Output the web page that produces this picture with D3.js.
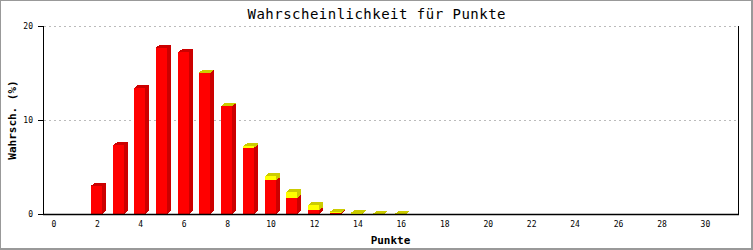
<!DOCTYPE html>
<html>
<head>
<meta charset="utf-8">
<script src="https://cdn.jsdelivr.net/npm/d3@7"></script>
<style>
  body { margin: 0; background: #fff; }
  svg { display: block; }
  text { font-family: "DejaVu Sans Mono", monospace; }
</style>
</head>
<body>
<div id="chart"></div>
<script>
// points 0..31
const punkte = [0,1,2,3,4,5,6,7,8,9,10,11,12,13,14,15,16,17,18,19,20,21,22,23,24,25,26,27,28,29,30,31]
// red part (lower stack)
const rot = [0,0,3.0,7.3,13.4,17.7,17.2,15.0,11.45,7.05,3.6,1.7,0.4,0.1,0,0,0,0,0,0,0,0,0,0,0,0,0,0,0,0,0,0]
// yellow part (upper stack)
const gelb = [0,0,0,0,0,0,0,0.05,0.05,0.15,0.45,0.65,0.55,0.15,0.12,0.03,0.02,0,0,0,0,0,0,0,0,0,0,0,0,0,0,0]
const yTicks = [0,10,20]
const xTickLabels = [0,2,4,6,8,10,12,14,16,18,20,22,24,26,28,30]

const W = 753, H = 250
const margin = {top: 26, right: 15, bottom: 36, left: 43}

const svg = d3.select("#chart").append("svg")
  .attr("width", W).attr("height", H)

// frame
svg.append("rect").attr("width", W).attr("height", H).attr("fill", "#999")
svg.append("rect").attr("x", 1).attr("y", 1).attr("width", W - 3).attr("height", H - 3).attr("fill", "#fff")

const x = d3.scaleBand()
  .domain(punkte)
  .range([margin.left, W - margin.right])
  .padding(0)

const y = d3.scaleLinear()
  .domain([0, 20])
  .range([H - margin.bottom, margin.top])

// grid
svg.append("g")
  .selectAll("line")
  .data(yTicks.filter(d => d > 0))
  .enter().append("line")
    .attr("x1", margin.left + 1).attr("x2", W - margin.right)
    .attr("y1", d => Math.round(y(d)) + 0.5).attr("y2", d => Math.round(y(d)) + 0.5)
    .attr("stroke", "#bbb")
    .attr("stroke-dasharray", "2,3")

// bars with 3D look
const dx = 4, dy = 3
const bw = 11
const stacks = punkte.map((p, i) => ({p: p, segs: [
  {y0: 0, y1: rot[i], front: "#ff0000", dark: "#cc0000"},
  {y0: rot[i], y1: rot[i] + gelb[i], front: "#ffff00", dark: "#cccc00"}
]}))

const bars = svg.append("g").attr("shape-rendering", "crispEdges")
stacks.forEach(s => {
  const x1 = Math.round(x(s.p) + x.bandwidth() / 2 - bw / 2 - 1)
  const x2 = x1 + bw
  s.segs.forEach(seg => {
    if (seg.y1 - seg.y0 <= 0) return
    const top = y(seg.y1), bot = y(seg.y0)
    // side
    bars.append("path")
      .attr("d", `M${x2},${top}L${x2 + dx},${top - dy}L${x2 + dx},${bot - dy}L${x2},${bot}Z`)
      .attr("fill", seg.dark)
    // front
    bars.append("rect")
      .attr("x", x1).attr("y", top)
      .attr("width", bw).attr("height", Math.max(0, bot - top))
      .attr("fill", seg.front)
    // top
    bars.append("path")
      .attr("d", `M${x1},${top}L${x1 + dx},${top - dy}L${x2 + dx},${top - dy}L${x2},${top}Z`)
      .attr("fill", seg.dark)
  })
})

// axes lines
const y0 = Math.round(y(0)) + 0.5
svg.append("line")
  .attr("x1", margin.left).attr("x2", W - margin.right + 1)
  .attr("y1", y0).attr("y2", y0)
  .attr("stroke", "#000").attr("stroke-width", 1.5)
svg.append("line")
  .attr("x1", margin.left + 0.5).attr("x2", margin.left + 0.5)
  .attr("y1", margin.top).attr("y2", y0)
  .attr("stroke", "#000")
svg.append("line")
  .attr("x1", W - margin.right + 0.5).attr("x2", W - margin.right + 0.5)
  .attr("y1", margin.top).attr("y2", y0)
  .attr("stroke", "#000")

// y ticks
const yAxis = svg.append("g")
yAxis.selectAll("line").data(yTicks).enter().append("line")
  .attr("x1", margin.left - 5).attr("x2", margin.left)
  .attr("y1", d => Math.round(y(d)) + 0.5).attr("y2", d => Math.round(y(d)) + 0.5)
  .attr("stroke", "#000")
yAxis.selectAll("text").data(yTicks).enter().append("text")
  .attr("x", 33).attr("y", d => y(d) + 3)
  .attr("text-anchor", "end")
  .attr("font-size", 8)
  .text(d => d)

// x labels
svg.append("g").selectAll("text").data(xTickLabels).enter().append("text")
  .attr("x", d => x(d) + x.bandwidth() / 2)
  .attr("y", 226.5)
  .attr("text-anchor", "middle")
  .attr("font-size", 8)
  .text(d => d)

// titles
svg.append("text")
  .attr("x", 376.5).attr("y", 19)
  .attr("text-anchor", "middle")
  .attr("font-size", 14)
  .attr("textLength", 258)
  .text("Wahrscheinlichkeit für Punkte")

svg.append("text")
  .attr("x", (margin.left + W - margin.right) / 2).attr("y", 243.5)
  .attr("text-anchor", "middle")
  .attr("font-size", 11)
  .attr("font-weight", "bold")
  .text("Punkte")

svg.append("text")
  .attr("transform", "translate(16," + 120 + ") rotate(-90)")
  .attr("text-anchor", "middle")
  .attr("font-size", 11)
  .attr("font-weight", "bold")
  .text("Wahrsch. (%)")
</script>
</body>
</html>
